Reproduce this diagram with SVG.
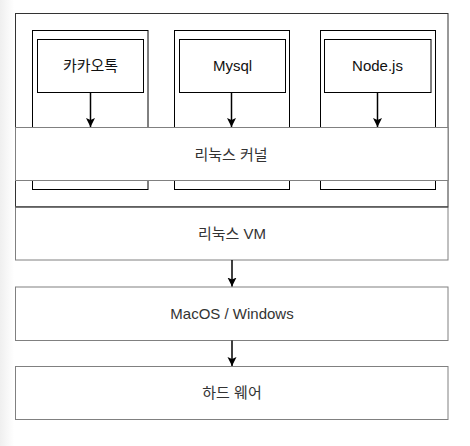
<svg xmlns="http://www.w3.org/2000/svg" width="470" height="446" viewBox="0 0 470 446">
<defs>
<linearGradient id="edge" x1="0" y1="0" x2="1" y2="0">
<stop offset="0" stop-color="#efefef"/>
<stop offset="1" stop-color="#ffffff"/>
</linearGradient>
<marker id="arr" markerUnits="userSpaceOnUse" markerWidth="10" markerHeight="10" viewBox="0 0 10 10" refX="9" refY="5" orient="auto">
<path d="M0,0.5 L9,5 L0,9.5 L2,5 Z" fill="#000"/>
</marker>
</defs>
<style>
.box{fill:#fff;stroke:#000;stroke-width:1}
.layer{fill:#fff;stroke:#808080;stroke-width:1}
.outer{fill:#fff;stroke:#333;stroke-width:1}
.t{font-family:"Liberation Sans","Noto Sans CJK KR",sans-serif;font-size:15px;text-anchor:middle;fill:#111}
.tg{font-family:"Liberation Sans","Noto Sans CJK KR",sans-serif;font-size:15px;text-anchor:middle;fill:#333}
.c{stroke:#000;stroke-width:1.5;fill:none;marker-end:url(#arr)}
</style>
<rect x="0" y="0" width="470" height="446" fill="#fff"/>
<rect x="0" y="0" width="14" height="446" fill="url(#edge)"/>
<g id="host">
<rect class="outer" x="15.5" y="13.5" width="432.5" height="193.5"/>
</g>
<g id="container1">
<rect class="box" x="32.5" y="30.5" width="115.5" height="159"/>
</g>
<g id="container2">
<rect class="box" x="174.5" y="30.5" width="115" height="159"/>
</g>
<g id="container3">
<rect class="box" x="320.5" y="30.5" width="115" height="159"/>
</g>
<g id="kakaotalk">
<rect class="box" x="37.5" y="39.5" width="106" height="53"/>
<text class="t" x="90.5" y="71">카카오톡</text>
</g>
<g id="mysql">
<rect class="box" x="179.5" y="39.5" width="106" height="53"/>
<text class="t" x="232.5" y="71">Mysql</text>
</g>
<g id="nodejs">
<rect class="box" x="324.5" y="39.5" width="106.5" height="53"/>
<text class="t" x="377.5" y="71">Node.js</text>
</g>
<g id="kernel">
<rect class="layer" x="15.5" y="127.5" width="432.5" height="53"/>
<text class="tg" x="231" y="159.5">리눅스 커널</text>
</g>
<g id="vm">
<rect class="layer" x="15.5" y="207" width="432.5" height="53"/>
<line x1="15.5" y1="207" x2="448" y2="207" stroke="#333" stroke-width="1"/>
<text class="tg" x="232" y="239">리눅스 VM</text>
</g>
<g id="os">
<rect class="layer" x="15.5" y="287" width="432.5" height="53.5"/>
<text class="tg" x="232" y="318.5">MacOS / Windows</text>
</g>
<g id="hardware">
<rect class="layer" x="15.5" y="366.5" width="432.5" height="53"/>
<text class="tg" x="232" y="398">하드 웨어</text>
</g>
<g id="connectors">
<line class="c" x1="90.5" y1="92.5" x2="90.5" y2="127"/>
<line class="c" x1="231.5" y1="92.5" x2="231.5" y2="127"/>
<line class="c" x1="377.5" y1="92.5" x2="377.5" y2="127"/>
<line class="c" x1="232" y1="260" x2="232" y2="286.5"/>
<line class="c" x1="232" y1="340.5" x2="232" y2="366"/>
</g>
</svg>
